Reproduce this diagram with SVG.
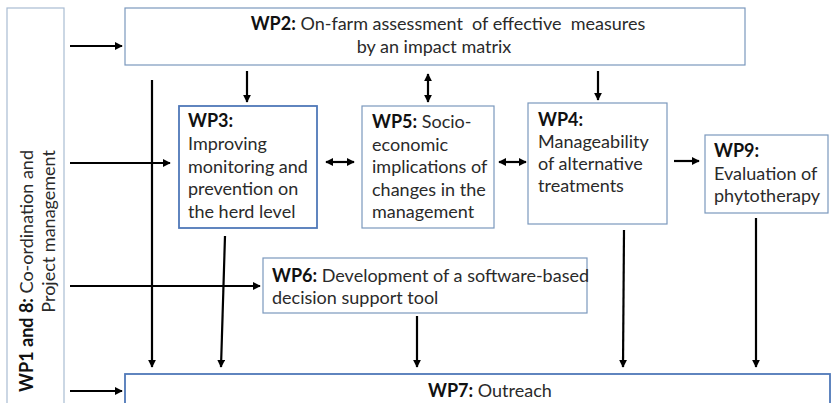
<svg xmlns="http://www.w3.org/2000/svg" width="833" height="403" viewBox="0 0 833 403">
<style>
.bg{fill:#ffffff}
.box{fill:#ffffff;stroke:#7b98bd;stroke-width:1.2}
.boxd{fill:#ffffff;stroke:#4f78b8;stroke-width:1.8}
.boxl{fill:#ffffff;stroke:#a9bcd3;stroke-width:1.2}
text{font-family:Lato,"Liberation Sans",sans-serif;font-size:18px;fill:#2a2a2a}
.b{font-weight:bold;fill:#111}
.c{stroke:#000;stroke-width:2.2;fill:none}
</style>
<defs>
<marker id="ah" viewBox="0 0 10 10" refX="9" refY="5" markerWidth="8" markerHeight="8" markerUnits="userSpaceOnUse" orient="auto-start-reverse">
<path d="M0,0 L10,5 L0,10 z" fill="#000"/>
</marker>
</defs>
<rect class="bg" x="0" y="0" width="833" height="403"/>
<g id="wp1">
<rect class="boxl" x="7" y="8" width="57" height="402"/>
<text transform="translate(33,150) rotate(-90)" text-anchor="end"><tspan class="b">WP1 and 8:</tspan> Co-ordination and</text>
<text transform="translate(55,150) rotate(-90)" text-anchor="end">Project management</text>
</g>
<g id="wp2">
<rect class="box" x="125" y="8" width="620" height="57"/>
<text x="448" y="30" text-anchor="middle" xml:space="preserve"><tspan class="b">WP2:</tspan> On-farm assessment  of effective  measures</text>
<text x="434" y="53" text-anchor="middle">by an impact matrix</text>
</g>
<g id="wp3">
<rect class="boxd" x="179" y="106" width="138" height="122"/>
<text x="188" y="127" class="b">WP3:</text>
<text x="188" y="150">Improving</text>
<text x="188" y="172.5">monitoring and</text>
<text x="188" y="195">prevention on</text>
<text x="188" y="218">the herd level</text>
</g>
<g id="wp5">
<rect class="box" x="362" y="106" width="132" height="122"/>
<text x="372" y="128"><tspan class="b">WP5:</tspan> Socio-</text>
<text x="372" y="150.5">economic</text>
<text x="372" y="173">implications of</text>
<text x="372" y="195.5">changes in the</text>
<text x="372" y="218">management</text>
</g>
<g id="wp4">
<rect class="box" x="528" y="103" width="139" height="121"/>
<text x="538" y="126" class="b">WP4:</text>
<text x="538" y="148">Manageability</text>
<text x="538" y="170">of alternative</text>
<text x="538" y="192">treatments</text>
</g>
<g id="wp9">
<rect class="box" x="705" y="135" width="123" height="78"/>
<text x="714" y="157" class="b">WP9:</text>
<text x="714" y="180">Evaluation of</text>
<text x="714" y="202">phytotherapy</text>
</g>
<g id="wp6">
<rect class="box" x="263" y="258" width="324" height="55"/>
<text x="272" y="282"><tspan class="b">WP6:</tspan> Development of a software-based</text>
<text x="272" y="304">decision support tool</text>
</g>
<g id="wp7">
<rect class="boxd" x="125" y="374" width="705" height="40"/>
<text x="428" y="397"><tspan class="b">WP7:</tspan> Outreach</text>
</g>
<g id="connectors">
<line class="c" x1="70" y1="46" x2="122" y2="46" marker-end="url(#ah)"/>
<line class="c" x1="70" y1="163" x2="170" y2="163" marker-end="url(#ah)"/>
<line class="c" x1="70" y1="286" x2="260" y2="286" marker-end="url(#ah)"/>
<line class="c" x1="70" y1="391" x2="122" y2="391" marker-end="url(#ah)"/>
<line class="c" x1="152" y1="80" x2="152" y2="367" marker-end="url(#ah)"/>
<line class="c" x1="225" y1="236" x2="221" y2="367" marker-end="url(#ah)"/>
<line class="c" x1="247" y1="71" x2="247" y2="102" marker-end="url(#ah)"/>
<line class="c" x1="428" y1="74" x2="428" y2="102" marker-start="url(#ah)" marker-end="url(#ah)"/>
<line class="c" x1="598" y1="71" x2="598" y2="100" marker-end="url(#ah)"/>
<line class="c" x1="326" y1="162" x2="354" y2="162" marker-start="url(#ah)" marker-end="url(#ah)"/>
<line class="c" x1="499" y1="162" x2="526" y2="162" marker-start="url(#ah)" marker-end="url(#ah)"/>
<line class="c" x1="674" y1="161" x2="699" y2="161" marker-end="url(#ah)"/>
<line class="c" x1="417" y1="316" x2="417" y2="367" marker-end="url(#ah)"/>
<line class="c" x1="624" y1="230" x2="623" y2="367" marker-end="url(#ah)"/>
<line class="c" x1="756" y1="218" x2="756" y2="367" marker-end="url(#ah)"/>
</g>
</svg>
